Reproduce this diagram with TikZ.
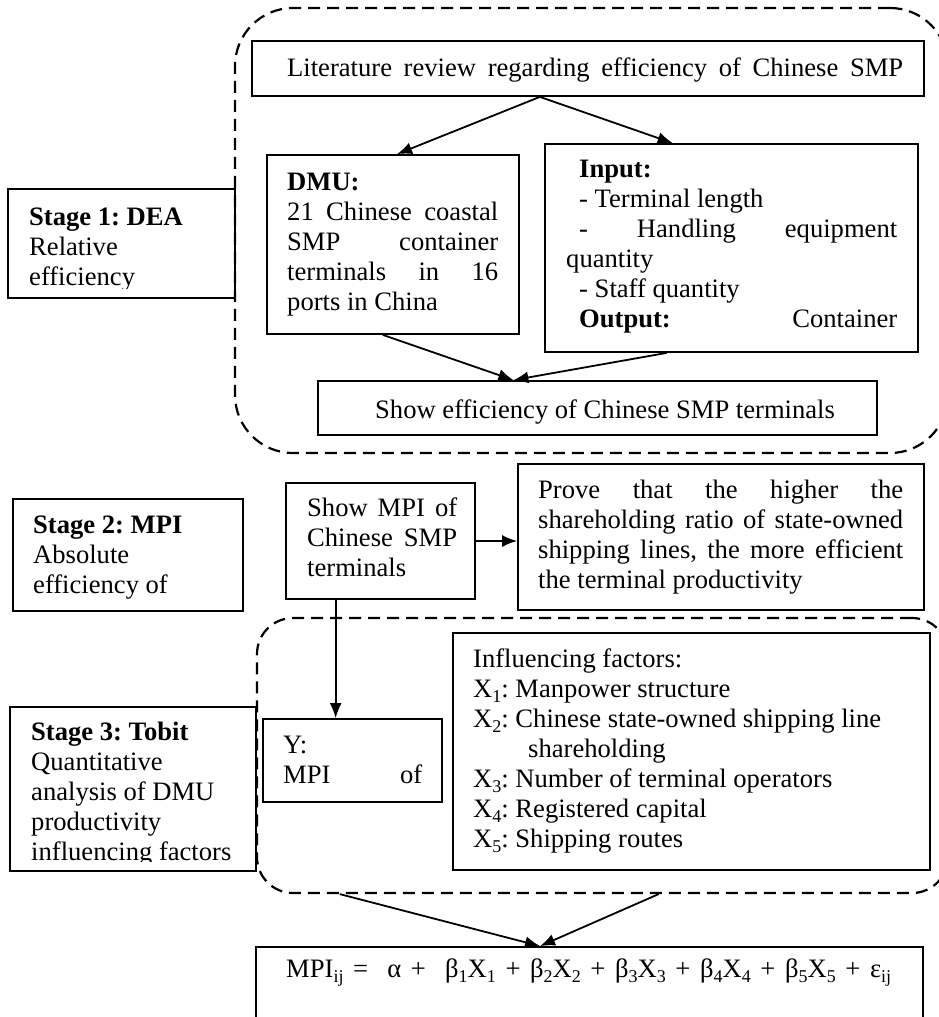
\documentclass[tikz,border=0pt]{standalone}
\usepackage{fontspec}
\setmainfont{Liberation Serif}
\usetikzlibrary{arrows.meta,calc}

\newcommand{\plainspaces}{\frenchspacing\spaceskip=0pt\relax\xspaceskip=0pt\relax}
\newcommand{\jline}[2]{{\plainspaces\makebox[#1][s]{#2}}}
\newcommand{\lo}[1]{\raisebox{-5pt}{\fontsize{18}{18}\selectfont #1}}

\tikzset{
  box/.style={draw, rectangle, line width=1.8pt, inner sep=0pt},
  group/.style={draw, rectangle, line width=2.2pt, inner sep=0pt,
    dash pattern=on 12pt off 7pt, rounded corners=#1},
  txt/.style={anchor=north west, inner sep=0pt, text width=#1, align=left,
    font=\fontsize{26.6}{30}\selectfont,
    execute at begin node={\plainspaces\strut}},
  link/.style={line width=1.8pt, ->}
}

\begin{document}
\begin{tikzpicture}[x=1pt, y=-1pt, >={Latex[length=15pt,width=12pt]}]
  \useasboundingbox (0,0) rectangle (938,1017);

  % stage 1
  \node[group=58pt, minimum width=713pt, minimum height=445pt] (grp1) at (591.5,230.5) {};
  \node[box, minimum width=227pt, minimum height=109pt] (s1) at (121.5,243.5) {};
  \node[box, minimum width=672pt, minimum height=55pt] (lit) at (588,68.5) {};
  \node[box, minimum width=252pt, minimum height=179pt] (dmu) at (393,244.5) {};
  \node[box, minimum width=373pt, minimum height=208pt] (inp) at (731.5,248) {};
  \node[box, minimum width=559pt, minimum height=54pt] (eff) at (597.5,408) {};

  \begin{scope}
    \clip (s1.north west) rectangle ([yshift=10pt]s1.south east);
    \node[txt=200pt] (s1text) at (29,204) {\textbf{Stage 1: DEA}\\Relative\\efficiency};
  \end{scope}
  \node[txt=616pt] (littext) at (287,55) {\jline{616pt}{Literature review regarding efficiency of Chinese SMP}};
  \node[txt=211pt] (dmutext) at (287,169) {\textbf{DMU:}\\
    \jline{211pt}{21 Chinese coastal}\\
    \jline{211pt}{SMP container}\\
    \jline{211pt}{terminals in 16}\\
    ports in China};
  \node[txt=331pt] (inptext) at (566,156) {\hspace*{13pt}\textbf{Input:}\\
    \hspace*{13pt}- Terminal length\\
    \hspace*{13pt}\jline{318pt}{- Handling equipment}\\
    quantity\\
    \hspace*{13pt}- Staff quantity\\
    \hspace*{13pt}\jline{318pt}{\textbf{Output:} Container}};
  \node[txt=470pt] (efftext) at (375,397) {Show efficiency of Chinese SMP terminals};

  \draw[link] ($(lit.south west)!0.4286!(lit.south east)$) -- ($(dmu.north west)!0.516!(dmu.north east)$);
  \draw[link] ($(lit.south west)!0.4286!(lit.south east)$) -- ($(inp.north west)!0.343!(inp.north east)$);
  \draw[link] ($(dmu.south west)!0.46!(dmu.south east)$) -- ($(eff.north west)!0.35!(eff.north east)$);
  \draw[link] ($(inp.south west)!0.327!(inp.south east)$) -- ($(eff.north west)!0.35!(eff.north east)$);

  % stage 2
  \node[box, minimum width=230pt, minimum height=112pt] (s2) at (128,555) {};
  \node[box, minimum width=189pt, minimum height=116pt] (mpi) at (380.5,541) {};
  \node[box, minimum width=406pt, minimum height=146pt] (prove) at (721,537) {};

  \node[txt=205pt] (s2text) at (33,512) {\textbf{Stage 2: MPI}\\Absolute\\efficiency of};
  \node[txt=150pt] (mpitext) at (307,495) {\jline{150pt}{Show MPI of}\\
    \jline{150pt}{Chinese SMP}\\
    terminals};
  \node[txt=365pt] (provetext) at (538,477) {\jline{365pt}{Prove that the higher the}\\
    \jline{365pt}{shareholding ratio of state-owned}\\
    \jline{365pt}{shipping lines, the more efficient}\\
    the terminal productivity};

  \draw[link] (mpi.east) -- (mpi.east -| prove.west);

  % stage 3
  \node[group=36pt, minimum width=691pt, minimum height=275pt] (grp2) at (602.5,755.5) {};
  \node[box, minimum width=246pt, minimum height=164pt] (s3) at (133,789) {};
  \node[box, minimum width=179pt, minimum height=83pt] (ybox) at (352.5,760.5) {};
  \node[box, minimum width=477pt, minimum height=237pt] (fac) at (691.5,751.5) {};
  \node[box, minimum width=667pt, minimum height=100pt] (form) at (589.5,997) {};

  \begin{scope}
    \clip (s3.north west) rectangle ([yshift=10pt]s3.south east);
    \node[txt=220pt] (s3text) at (31,719) {\textbf{Stage 3: Tobit}\\Quantitative\\analysis of DMU\\productivity\\influencing factors};
  \end{scope}
  \node[txt=139pt] (ytext) at (283,732) {Y:\\\jline{139pt}{MPI of}};
  \node[txt=440pt] (factext) at (473,646) {Influencing factors:\\
    X\lo{1}: Manpower structure\\
    X\lo{2}: Chinese state-owned shipping line\\
    \hspace*{55pt}shareholding\\
    X\lo{3}: Number of terminal operators\\
    X\lo{4}: Registered capital\\
    X\lo{5}: Shipping routes};
  \node[txt=605pt] (formtext) at (286,956) {\jline{605pt}{MPI\lo{ij} = \ α + \ β\lo{1}X\lo{1} + β\lo{2}X\lo{2} + β\lo{3}X\lo{3} + β\lo{4}X\lo{4} + β\lo{5}X\lo{5} + ε\lo{ij}}};

  \coordinate (m) at ($(mpi.south west)!0.265!(mpi.south east)$);
  \draw[link] (m) -- (m |- ybox.north);
  \draw[link] ($(grp2.south west)!0.121!(grp2.south east)$) -- ($(form.north west)!0.426!(form.north east)$);
  \draw[link] ($(grp2.south west)!0.581!(grp2.south east)$) -- ($(form.north west)!0.426!(form.north east)$);
\end{tikzpicture}
\end{document}
